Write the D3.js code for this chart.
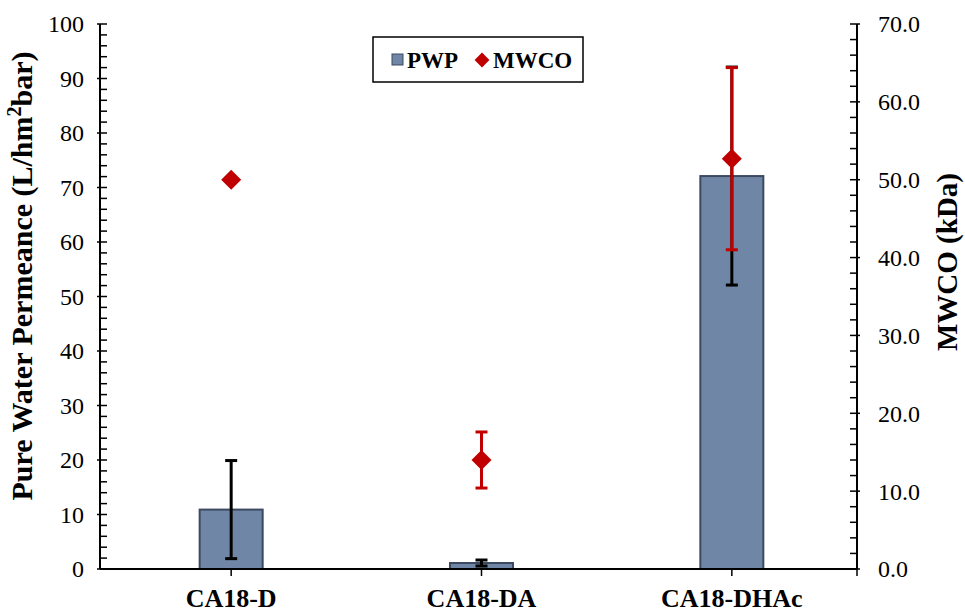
<!DOCTYPE html>
<html>
<head>
<meta charset="utf-8">
<script src="https://cdn.jsdelivr.net/npm/d3@7"></script>
<style>
  body { margin: 0; background: #fff; }
</style>
</head>
<body>
<svg id="chart" width="965" height="614"></svg>
<script>
// chart data
const categories = ['CA18-D', 'CA18-DA', 'CA18-DHAc']
const pwp = [10.9, 1.1, 72.1]
const pwpErr = [9.0, 0.55, 20.0]
const mwco = [50.0, 14.0, 52.7]
const mwcoErr = [0, 3.6, 11.7]
const leftTicks = d3.range(0, 101, 10)
const rightTicks = d3.range(0, 71, 10)

const FONT = '"Liberation Serif", Tinos, serif'
const svg = d3.select('#chart')
const plotTop = 24, plotBottom = 569, axisLeft = 100, axisRight = 857

const x = d3.scaleBand().domain(categories).range([106, 857])
const yL = d3.scaleLinear().domain([0, 100]).range([plotBottom, plotTop])
const yR = d3.scaleLinear().domain([0, 70]).range([plotBottom, plotTop])
const cx = d => x(d) + x.bandwidth() / 2

const barW = 63, capW = 12
const barFill = '#6f86a6', barStroke = '#3b4a61', red = '#c00000'

// bars
svg.append('g').selectAll('rect')
  .data(categories)
  .join('rect')
    .attr('x', d => cx(d) - barW / 2)
    .attr('y', (d, i) => yL(pwp[i]))
    .attr('width', barW)
    .attr('height', (d, i) => plotBottom - yL(pwp[i]))
    .attr('fill', barFill)
    .attr('stroke', barStroke)
    .attr('stroke-width', 2)

// error bars
function errorBars(vals, errs, scale, color) {
  const g = svg.append('g').attr('stroke', color).attr('stroke-width', 3)
  categories.forEach((c, i) => {
    if (!errs[i]) return
    const y1 = scale(vals[i] + errs[i]), y2 = scale(vals[i] - errs[i])
    g.append('line').attr('x1', cx(c)).attr('x2', cx(c)).attr('y1', y1).attr('y2', y2)
    ;[y1, y2].forEach(yy =>
      g.append('line').attr('x1', cx(c) - capW / 2).attr('x2', cx(c) + capW / 2).attr('y1', yy).attr('y2', yy))
  })
}
errorBars(pwp, pwpErr, yL, '#000')
errorBars(mwco, mwcoErr, yR, red)

// MWCO diamonds
svg.append('g').selectAll('path')
  .data(categories)
  .join('path')
    .attr('d', d3.symbol().type(d3.symbolSquare).size(200))
    .attr('transform', (d, i) => `translate(${cx(d)},${yR(mwco[i])}) rotate(45)`)
    .attr('fill', red)

// axes
const ax = svg.append('g').attr('stroke', '#000').attr('stroke-width', 2)
ax.append('line').attr('x1', axisLeft).attr('x2', axisLeft).attr('y1', plotTop).attr('y2', plotBottom)
ax.append('line').attr('x1', axisRight).attr('x2', axisRight).attr('y1', plotTop).attr('y2', plotBottom)
ax.append('line').attr('x1', axisLeft).attr('x2', axisRight).attr('y1', plotBottom).attr('y2', plotBottom)

d3.range(0, 101, 2).forEach(v => {
  const major = v % 10 === 0
  ax.append('line').attr('x1', axisLeft - (major ? 3 : 0)).attr('x2', axisLeft + 7)
    .attr('y1', yL(v)).attr('y2', yL(v)).attr('stroke-width', 1.5)
})
d3.range(0, 71, 2).forEach(v => {
  const major = v % 10 === 0
  ax.append('line').attr('x1', axisRight - 7).attr('x2', axisRight + (major ? 3 : 0))
    .attr('y1', yR(v)).attr('y2', yR(v)).attr('stroke-width', 1.5)
})
categories.forEach(c => {
  ax.append('line').attr('x1', cx(c)).attr('x2', cx(c)).attr('y1', plotBottom).attr('y2', plotBottom + 7).attr('stroke-width', 1.5)
})
ax.append('line').attr('x1', axisRight).attr('x2', axisRight).attr('y1', plotBottom).attr('y2', plotBottom + 7).attr('stroke-width', 1.5)

// tick labels
svg.append('g').selectAll('text')
  .data(leftTicks)
  .join('text')
    .attr('x', 84).attr('y', d => yL(d)).attr('dy', '0.35em')
    .attr('text-anchor', 'end').attr('font-size', 24)
    .style('font-family', FONT)
    .text(d => d)
svg.append('g').selectAll('text')
  .data(rightTicks)
  .join('text')
    .attr('x', 878).attr('y', d => yR(d)).attr('dy', '0.35em')
    .attr('font-size', 24)
    .style('font-family', FONT)
    .text(d => d.toFixed(1))
svg.append('g').selectAll('text')
  .data(categories)
  .join('text')
    .attr('x', d => cx(d)).attr('y', 607)
    .attr('text-anchor', 'middle').attr('font-size', 26).attr('font-weight', 'bold')
    .style('font-family', FONT)
    .text(d => d)

// axis titles
const lt = svg.append('text')
  .attr('transform', 'translate(32,276) rotate(-90)')
  .attr('text-anchor', 'middle').attr('font-size', 30).attr('font-weight', 'bold')
  .style('font-family', FONT)
lt.append('tspan').text('Pure Water Permeance (L/hm')
lt.append('tspan').attr('font-size', 20).attr('dy', -11).text('2')
lt.append('tspan').attr('dy', 11).text('bar)')
svg.append('text')
  .attr('transform', 'translate(957,262) rotate(-90)')
  .attr('text-anchor', 'middle').attr('font-size', 29).attr('font-weight', 'bold')
  .style('font-family', FONT)
  .text('MWCO (kDa)')

// legend
const lg = svg.append('g')
lg.append('rect').attr('x', 373).attr('y', 37).attr('width', 210).attr('height', 45)
  .attr('fill', '#fff').attr('stroke', '#000').attr('stroke-width', 1.5)
lg.append('rect').attr('x', 392).attr('y', 54).attr('width', 11).attr('height', 11)
  .attr('fill', barFill).attr('stroke', barStroke).attr('stroke-width', 1)
lg.append('text').attr('x', 407).attr('y', 68).attr('font-size', 23).attr('font-weight', 'bold')
  .style('font-family', FONT).text('PWP')
lg.append('path').attr('d', d3.symbol().type(d3.symbolSquare).size(110))
  .attr('transform', 'translate(482,60) rotate(45)').attr('fill', red)
lg.append('text').attr('x', 493).attr('y', 68).attr('font-size', 23).attr('font-weight', 'bold')
  .style('font-family', FONT).text('MWCO')
</script>
</body>
</html>
